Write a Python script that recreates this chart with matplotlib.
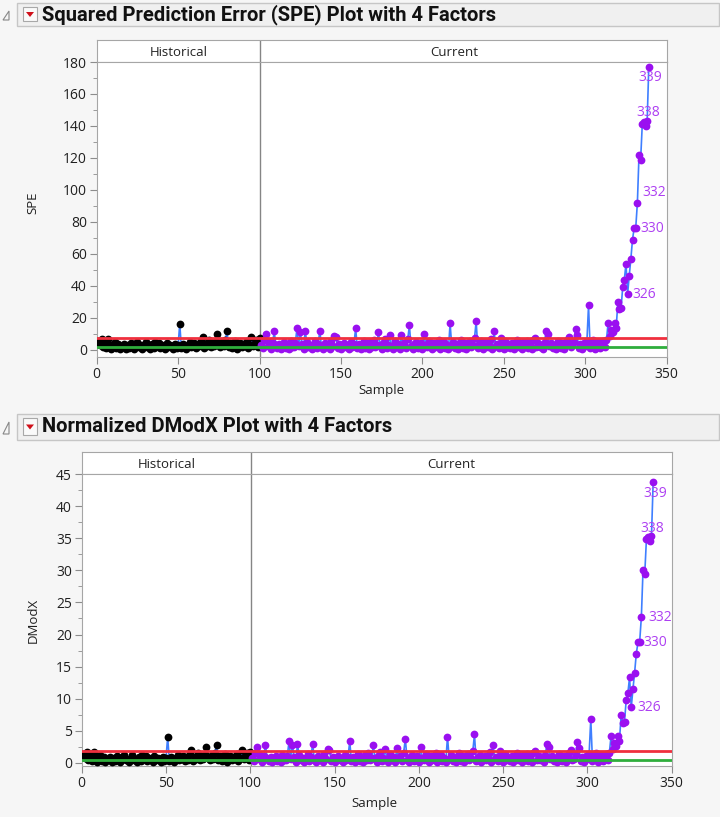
import matplotlib
matplotlib.use('Agg')
import matplotlib.pyplot as plt
from matplotlib.patches import Rectangle, Polygon
from matplotlib.ticker import MultipleLocator

plt.rcParams['font.family'] = ['Open Sans', 'DejaVu Sans']

# sample numbers, first 100 are the historical phase
samples = list(range(1, 340))
n_hist = 100
phase_names = ['Historical', 'Current']

spe = [
    5.5, 3.1, 6.8, 2.0, 4.2, 1.5, 7.0, 3.3, 0.9, 2.6, 4.8, 1.2, 3.9, 0.6, 2.2, 1.8, 3.5, 0.8, 2.9, 1.4,
    4.4, 2.1, 0.7, 3.6, 5.2, 1.9, 2.8, 0.5, 3.2, 4.9, 1.6, 2.4, 0.9, 3.8, 1.3, 5.1, 2.7, 4.3, 1.1, 3.0,
    2.3, 0.8, 4.6, 1.7, 3.4, 2.0, 0.6, 3.7, 1.5, 2.9, 16.4, 1.2, 4.0, 2.5, 0.9, 3.3, 5.0, 1.8, 2.6, 4.1,
    1.0, 3.6, 2.2, 5.4, 8.1, 1.4, 3.9, 2.7, 6.0, 1.6, 4.5, 2.3, 5.7, 9.8, 3.1, 1.9, 4.8, 2.5, 6.3, 11.6,
    2.0, 4.2, 1.3, 3.7, 5.5, 0.8, 2.9, 4.6, 1.7, 3.5, 2.4, 5.8, 1.1, 3.2, 7.9, 2.6, 4.4, 6.5, 1.9, 7.2,
    3.2, 1.5, 6.1, 10.2, 2.4, 5.0, 0.8, 4.3, 11.6, 2.9, 1.2, 3.8, 0.6, 2.5, 4.7, 1.4, 3.1, 0.9, 5.3, 2.0,
    1.7, 4.4, 14.0, 2.6, 11.4, 3.5, 0.7, 11.8, 4.9, 1.9, 3.0, 0.5, 2.8, 5.6, 1.3, 3.9, 11.9, 2.2, 0.9, 4.1,
    1.6, 3.4, 0.8, 5.9, 2.3, 9.0, 8.4, 1.1, 3.7, 0.6, 2.5, 4.6, 1.8, 3.3, 0.7, 5.1, 2.0, 4.0, 13.6, 1.5,
    3.6, 0.9, 2.7, 5.4, 1.2, 3.9, 0.5, 4.8, 2.1, 6.3, 1.7, 3.0, 11.2, 2.4, 0.8, 4.5, 6.9, 1.3, 3.2, 9.1,
    2.6, 0.7, 5.7, 1.9, 3.8, 0.6, 9.6, 2.9, 4.2, 1.4, 6.6, 15.4, 2.2, 0.9, 3.5, 5.2, 1.1, 2.8, 4.6, 0.8,
    10.1, 3.3, 1.6, 5.8, 2.4, 0.7, 4.1, 1.9, 3.6, 6.1, 0.9, 2.7, 4.9, 1.2, 3.4, 0.6, 16.7, 2.3, 5.0, 1.5,
    3.9, 0.8, 2.6, 6.4, 1.3, 4.3, 0.5, 3.1, 5.6, 1.8, 2.9, 7.4, 18.0, 1.0, 3.7, 5.3, 0.7, 2.4, 4.7, 1.6,
    3.2, 6.7, 0.9, 11.6, 2.5, 4.0, 1.4, 7.5, 3.6, 0.6, 5.5, 2.1, 3.8, 1.1, 4.4, 0.8, 2.9, 6.2, 1.7, 3.4,
    0.5, 4.9, 2.2, 5.8, 1.3, 3.5, 0.9, 6.5, 7.6, 2.0, 4.1, 1.6, 3.0, 0.7, 5.2, 12.0, 10.1, 2.7, 4.5, 1.2,
    3.3, 0.8, 5.7, 2.4, 1.5, 4.2, 0.6, 3.6, 6.0, 8.2, 1.9, 2.8, 5.0, 13.1, 9.2, 1.4, 3.9, 0.9, 4.6, 2.3,
    5.4, 27.8, 1.1, 3.7, 6.3, 0.8, 2.6, 4.8, 1.5, 3.2, 5.9, 2.0, 6.0, 16.8, 9.0, 12.5, 11.0, 16.8, 14.0, 30.0,
    25.5, 26.0, 39.6, 44.0, 54.0, 35.0, 46.5, 57.0, 69.0, 76.0, 76.5, 92.0, 122.0, 119.0, 141.0, 142.5, 140.0, 143.0, 177.0,
]

dmodx = [
    1.36, 0.77, 1.68, 0.49, 1.04, 0.37, 1.73, 0.81, 0.22, 0.64, 1.19, 0.30, 0.96, 0.15, 0.54, 0.44, 0.86, 0.20, 0.72, 0.35,
    1.09, 0.52, 0.17, 0.89, 1.28, 0.47, 0.69, 0.12, 0.79, 1.21, 0.40, 0.59, 0.22, 0.94, 0.32, 1.26, 0.67, 1.06, 0.27, 0.74,
    0.57, 0.20, 1.14, 0.42, 0.84, 0.49, 0.15, 0.91, 0.37, 0.72, 4.05, 0.30, 0.99, 0.62, 0.22, 0.81, 1.23, 0.44, 0.64, 1.01,
    0.25, 0.89, 0.54, 1.33, 2.00, 0.35, 0.96, 0.67, 1.48, 0.40, 1.11, 0.57, 1.41, 2.42, 0.77, 0.47, 1.19, 0.62, 1.56, 2.86,
    0.49, 1.04, 0.32, 0.91, 1.36, 0.20, 0.72, 1.14, 0.42, 0.86, 0.59, 1.43, 0.27, 0.79, 1.95, 0.64, 1.09, 1.60, 0.47, 1.78,
    0.79, 0.37, 1.51, 2.52, 0.59, 1.23, 0.20, 1.06, 2.86, 0.72, 0.30, 0.94, 0.15, 0.62, 1.16, 0.35, 0.77, 0.22, 1.31, 0.49,
    0.42, 1.09, 3.46, 0.64, 2.81, 0.86, 0.17, 2.91, 1.21, 0.47, 0.74, 0.12, 0.69, 1.38, 0.32, 0.96, 2.94, 0.54, 0.22, 1.01,
    0.40, 0.84, 0.20, 1.46, 0.57, 2.22, 2.07, 0.27, 0.91, 0.15, 0.62, 1.14, 0.44, 0.81, 0.17, 1.26, 0.49, 0.99, 3.36, 0.37,
    0.89, 0.22, 0.67, 1.33, 0.30, 0.96, 0.12, 1.19, 0.52, 1.56, 0.42, 0.74, 2.77, 0.59, 0.20, 1.11, 1.70, 0.32, 0.79, 2.25,
    0.64, 0.17, 1.41, 0.47, 0.94, 0.15, 2.37, 0.72, 1.04, 0.35, 1.63, 3.80, 0.54, 0.22, 0.86, 1.28, 0.27, 0.69, 1.14, 0.20,
    2.49, 0.81, 0.40, 1.43, 0.59, 0.17, 1.01, 0.47, 0.89, 1.51, 0.22, 0.67, 1.21, 0.30, 0.84, 0.15, 4.12, 0.57, 1.23, 0.37,
    0.96, 0.20, 0.64, 1.58, 0.32, 1.06, 0.12, 0.77, 1.38, 0.44, 0.72, 1.83, 4.44, 0.25, 0.91, 1.31, 0.17, 0.59, 1.16, 0.40,
    0.79, 1.65, 0.22, 2.86, 0.62, 0.99, 0.35, 1.85, 0.89, 0.15, 1.36, 0.52, 0.94, 0.27, 1.09, 0.20, 0.72, 1.53, 0.42, 0.84,
    0.12, 1.21, 0.54, 1.43, 0.32, 0.86, 0.22, 1.60, 1.88, 0.49, 1.01, 0.40, 0.74, 0.17, 1.28, 2.96, 2.49, 0.67, 1.11, 0.30,
    0.81, 0.20, 1.41, 0.59, 0.37, 1.04, 0.15, 0.89, 1.48, 2.02, 0.47, 0.69, 1.23, 3.23, 2.27, 0.35, 0.96, 0.22, 1.14, 0.57,
    1.33, 6.86, 0.27, 0.91, 1.56, 0.20, 0.64, 1.19, 0.37, 0.79, 1.46, 0.49, 1.48, 4.15, 2.22, 3.09, 2.72, 4.15, 3.46, 7.41,
    6.30, 6.42, 9.78, 10.86, 13.33, 8.64, 11.48, 14.07, 17.04, 18.77, 18.89, 22.72, 30.12, 29.38, 34.81, 35.19, 34.57, 35.31, 43.70,
]

spe_ucl, spe_center = 7.7, 1.75
dmodx_ucl, dmodx_center = 1.9, 0.45
labeled = [326, 330, 332, 338, 339]

W, H = 720, 817
fig = plt.figure(figsize=(W / 100, H / 100), dpi=100, facecolor='#f6f6f6')

def rect(x0, y0, x1, y1):
    # pixel box (top-left origin) -> figure fraction
    return [x0 / W, 1 - y1 / H, (x1 - x0) / W, (y1 - y0) / H]

def header(y0, y1, title):
    r = rect(17, y0, 719, y1)
    fig.patches.append(Rectangle((r[0], r[1]), r[2], r[3], transform=fig.transFigure,
                                 facecolor='#f0f0f0', edgecolor='#c6c6c6', lw=1))
    # little outline disclosure icon
    fig.patches.append(Polygon([(3 / W, 1 - (y1 - 6) / H), (9 / W, 1 - (y1 - 6) / H), (9 / W, 1 - (y0 + 8) / H)],
                               closed=True, transform=fig.transFigure, facecolor='none', edgecolor='#888888', lw=0.8))
    b = rect(23, y0 + 4, 37, y1 - 5)
    fig.patches.append(Rectangle((b[0], b[1]), b[2], b[3], transform=fig.transFigure,
                                 facecolor='#fafafa', edgecolor='#a8a8a8', lw=0.8))
    cy = (y0 + y1) / 2
    fig.patches.append(Polygon([(26 / W, 1 - (cy - 2.5) / H), (34 / W, 1 - (cy - 2.5) / H), (30 / W, 1 - (cy + 2.5) / H)],
                               closed=True, transform=fig.transFigure, facecolor='#d0101a', edgecolor='none'))
    fig.text(42 / W, 1 - cy / H, title, fontsize=14.5, fontweight='bold', color='#111111',
             va='center', ha='left', family=['Roboto', 'DejaVu Sans'])

def chart(box, head_box, values, ucl, center, ylim, major, minor, ylabel, ylabel_xy, xlabel_xy, offsets):
    frame = '#a6a6a6'
    hx = fig.add_axes(rect(*head_box))
    hx.set_xlim(0, 350)
    hx.set_ylim(0, 1)
    hx.set_xticks([])
    hx.set_yticks([])
    for s in hx.spines.values():
        s.set_color(frame)
    hx.axvline(100.5, color='#858585', lw=1)
    hx.text(50.5, 0.45, phase_names[0], ha='center', va='center', fontsize=9.5, color='#222222')
    hx.text(219.5, 0.45, phase_names[1], ha='center', va='center', fontsize=9.5, color='#222222')

    ax = fig.add_axes(rect(*box))
    ax.set_xlim(0, 350)
    ax.set_ylim(*ylim)
    ax.plot(samples, values, color='#3f7fff', lw=1.2, zorder=2)
    ax.plot(samples[:n_hist], values[:n_hist], 'o', color='black', ms=5.6, mew=0, zorder=3)
    ax.plot(samples[n_hist:], values[n_hist:], 'o', color='#9a10f0', ms=5.6, mew=0, zorder=3)
    ax.axhline(ucl, color='#f0303e', lw=2, zorder=4)
    ax.axhline(center, color='#2fae3c', lw=2, zorder=4)
    ax.axvline(100.5, color='#858585', lw=1, zorder=1)
    for s in labeled:
        dx, dy, ha = offsets[s]
        ax.annotate(str(s), (s, values[s - 1]), xytext=(dx * 0.72, dy * 0.72), textcoords='offset points',
                    ha=ha, va='center', fontsize=10, color='#ad3ff2', clip_on=True, zorder=5)
    ax.xaxis.set_major_locator(MultipleLocator(50))
    ax.yaxis.set_major_locator(MultipleLocator(major))
    ax.yaxis.set_minor_locator(MultipleLocator(minor))
    ax.tick_params(which='both', direction='out', color='#8c8c8c', labelsize=10, labelcolor='#202020')
    ax.tick_params(which='major', length=5, pad=2)
    ax.tick_params(which='minor', length=3)
    for s in ax.spines.values():
        s.set_color(frame)
    fig.text(ylabel_xy[0] / W, 1 - ylabel_xy[1] / H, ylabel, rotation=90, ha='center', va='center',
             fontsize=9.5, color='#202020')
    fig.text(xlabel_xy[0] / W, 1 - xlabel_xy[1] / H, 'Sample', ha='center', va='center',
             fontsize=9.5, color='#202020')

header(3, 26, 'Squared Prediction Error (SPE) Plot with 4 Factors')
header(414, 440, 'Normalized DModX Plot with 4 Factors')

chart((96.7, 62, 666.7, 357), (96.7, 40, 666.7, 62), spe, spe_ucl, spe_center,
      (-4.4, 180), 20, 10, 'SPE', (33, 203), (381, 391),
      {339: (1, -11, 'center'), 338: (1, 9, 'center'), 332: (5, 10, 'left'),
       330: (6, 0, 'left'), 326: (5, -1, 'left')})

chart((81.7, 474, 671.7, 766), (81.7, 452, 671.7, 474), dmodx, dmodx_ucl, dmodx_center,
      (-0.47, 45), 5, 2.5, 'DModX', (33, 620), (374, 804),
      {339: (2, -11, 'center'), 338: (1, 8, 'center'), 332: (7, 0, 'left'),
       330: (5, 0, 'left'), 326: (6, 0, 'left')})

fig.savefig('out.png', dpi=100, facecolor=fig.get_facecolor())
